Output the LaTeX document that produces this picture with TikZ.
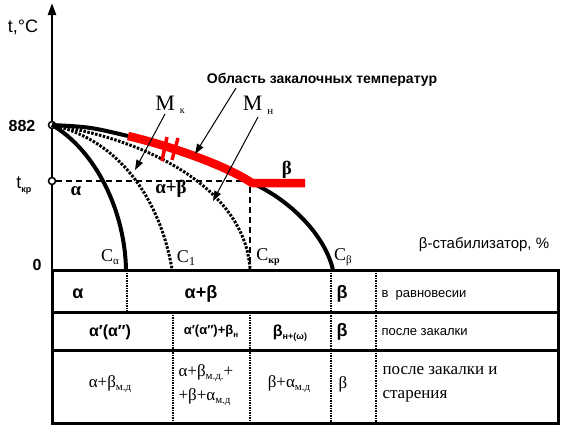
\documentclass[tikz,border=0pt]{standalone}
\usepackage{fontspec}
\setmainfont{Liberation Sans}
\newfontfamily\seriffont{Liberation Serif}
\usetikzlibrary{arrows.meta,calc}

\begin{document}
\begin{tikzpicture}[
    x=1pt, y=-1pt,
    font=\fontsize{14}{16}\selectfont,
    axisline/.style={line width=2.5pt},
    solidcurve/.style={line width=4pt},
    dotcurve/.style={line width=3pt, dash pattern=on 2.5pt off 1.5pt},
    guide/.style={line width=1.5pt, dash pattern=on 6pt off 4pt},
    quench/.style={draw=red, line width=8.5pt, line join=round},
    pointer/.style={line width=1pt, -{Triangle[length=10pt,width=7pt]}},
    knot/.style={circle, draw, line width=1.5pt, fill=white,
                 inner sep=0pt, minimum size=7pt},
    colsep/.style={line width=1.3pt, dash pattern=on 1.5pt off 1pt},
    rowline/.style={line width=3pt},
    big/.style={font=\fontsize{16}{18}\selectfont\bfseries},
    greek/.style={font=\fontsize{18}{20}\selectfont\bfseries},
    greekserif/.style={font=\seriffont\fontsize{19}{20}\selectfont\bfseries},
    clabel/.style={font=\seriffont\fontsize{18}{20}\selectfont},
    note/.style={font=\fontsize{13}{15}\selectfont, anchor=west},
    serifcell/.style={font=\seriffont\fontsize{17}{24}\selectfont},
  ]
  \useasboundingbox (0,0) rectangle (563,426);

  % ========================== AXES ==========================
  \coordinate (org) at (52,270);
  \coordinate (ytop) at (52,3);
  \draw[axisline, -{Triangle[length=12pt,width=8pt]}] (org) -- (ytop);
  \node[font=\fontsize{18}{18}\selectfont] (tlab) at (23,27) {t,°C};
  \node[big] (l882) at (22,126) {882};
  \node[font=\fontsize{18}{18}\selectfont] (ltkp) at (24,186)
    {t\raisebox{-4pt}{\fontsize{9}{9}\selectfont\bfseries кр}};
  \node[big] (lzero) at (37,265) {0};

  % ========================= CURVES =========================
  \node[knot] (p882) at (52,125) {};
  \node[knot] (ptkp) at (52,181) {};
  \coordinate (ca) at (126,270);
  \coordinate (c1) at (172,269);
  \coordinate (ckp) at (250,269);
  \coordinate (cb) at (333,270);
  \coordinate (bend) at (252,183);
  \coordinate (redstart) at (128,136);
  \coordinate (redend) at (305,183);

  % t_kp guides
  \draw[guide] (ptkp.east) -- (ptkp -| ckp) -- (ckp);

  \draw[solidcurve] (p882.center) .. controls (95,150) and (125,210) .. (ca);
  \draw[dotcurve] (p882.center) .. controls (120,140) and (160,200) .. (c1);
  \draw[dotcurve] (p882.center) .. controls (150,140) and (245,190) .. (ckp);
  \draw[solidcurve] (p882.center) .. controls (90,127) .. (redstart);
  \draw[solidcurve] (bend) .. controls (290,200) and (325,235) .. (cb);

  % quench range
  \draw[quench] (redstart) .. controls (170,146) and (225,165) .. (bend) -- (redend);
  \draw[red, line width=3.5pt] (167,137) -- (162,161);
  \draw[red, line width=3.5pt] (178,138) -- (172,160);

  % ========================= LABELS =========================
  \node[greekserif] (fa) at (76,191) {α};
  \node[greekserif] (fab) at (171,189) {α+β};
  \node[greekserif] (fb) at (287,170) {β};
  \node[clabel] (lca) at (110,257)
    {C\raisebox{-3pt}{\fontsize{11}{11}\selectfont α}};
  \node[clabel] (lc1) at (186,258)
    {C\raisebox{-3pt}{\fontsize{12}{12}\selectfont 1}};
  \node[clabel] (lckp) at (268,257)
    {C\raisebox{-3pt}{\fontsize{10}{10}\selectfont\bfseries кр}};
  \node[clabel] (lcb) at (343,257)
    {C\raisebox{-3pt}{\fontsize{11}{11}\selectfont β}};
  \node[font=\fontsize{15}{16}\selectfont] (stab) at (484,245) {β-стабилизатор, \%};

  \node[font=\fontsize{14}{15}\selectfont\bfseries] (zone) at (322,80)
    {Область закалочных температур};
  \node[font=\seriffont\fontsize{22}{24}\selectfont] (mk) at (170,105)
    {M\hspace{5pt}\raisebox{-3pt}{\fontsize{10}{10}\selectfont к}};
  \node[font=\seriffont\fontsize{22}{24}\selectfont] (mn) at (258,105)
    {M\hspace{5pt}\raisebox{-4pt}{\fontsize{11}{11}\selectfont н}};

  \coordinate (zonefoot) at (236,88);
  \coordinate (zonetip) at (195,154);
  \coordinate (mkfoot) at (165,114);
  \coordinate (mktip) at (135,170);
  \coordinate (mnfoot) at (258,117);
  \coordinate (mntip) at (213,201);
  \draw[pointer] (zonefoot) -- (zonetip);
  \draw[pointer] (mkfoot) -- (mktip);
  \draw[pointer] (mnfoot) -- (mntip);

  % ========================= TABLE ==========================
  \draw[rowline] (52,270) rectangle (558,423);
  \draw[rowline] (52,312) -- (558,312);
  \draw[rowline] (52,350) -- (558,350);
  \draw[colsep] (127,270) -- (127,312);
  \draw[colsep] (173,312) -- (173,423);
  \draw[colsep] (250,312) -- (250,423);
  \draw[colsep] (331,270) -- (331,423);
  \draw[colsep] (376,270) -- (376,423);

  % row 1
  \node[greek] (r1a) at (78,294) {α};
  \node[greek] (r1b) at (201,294) {α+β};
  \node[greek] (r1c) at (342,294) {β};
  \node[note] (r1d) at (378,295) {в\ \ равновесии};
  % row 2
  \node[big] (r2a) at (110,332) {α′(α″)};
  \node[font=\fontsize{13}{15}\selectfont\bfseries] (r2b) at (211,331)
    {α′(α″)+β\raisebox{-3pt}{\fontsize{8}{8}\selectfont н}};
  \node[big] (r2c) at (290,333)
    {β\raisebox{-3pt}{\fontsize{9}{9}\selectfont н+(ω)}};
  \node[greek] (r2d) at (342,332) {β};
  \node[note] (r2e) at (378,332) {после закалки};
  % row 3
  \node[serifcell] (r3a) at (110,384)
    {α+β\raisebox{-3pt}{\fontsize{11}{11}\selectfont м.д}};
  \node[serifcell, align=left, anchor=west] (r3b) at (175,385)
    {α+β\raisebox{-3pt}{\fontsize{11}{11}\selectfont м.д.}+\\
     +β+α\raisebox{-3pt}{\fontsize{11}{11}\selectfont м.д}};
  \node[serifcell] (r3c) at (289,384)
    {β+α\raisebox{-3pt}{\fontsize{11}{11}\selectfont м.д}};
  \node[serifcell] (r3d) at (343,384) {β};
  \node[serifcell, align=left, anchor=west] (r3e) at (379,384)
    {после закалки и\\старения};
\end{tikzpicture}
\end{document}
